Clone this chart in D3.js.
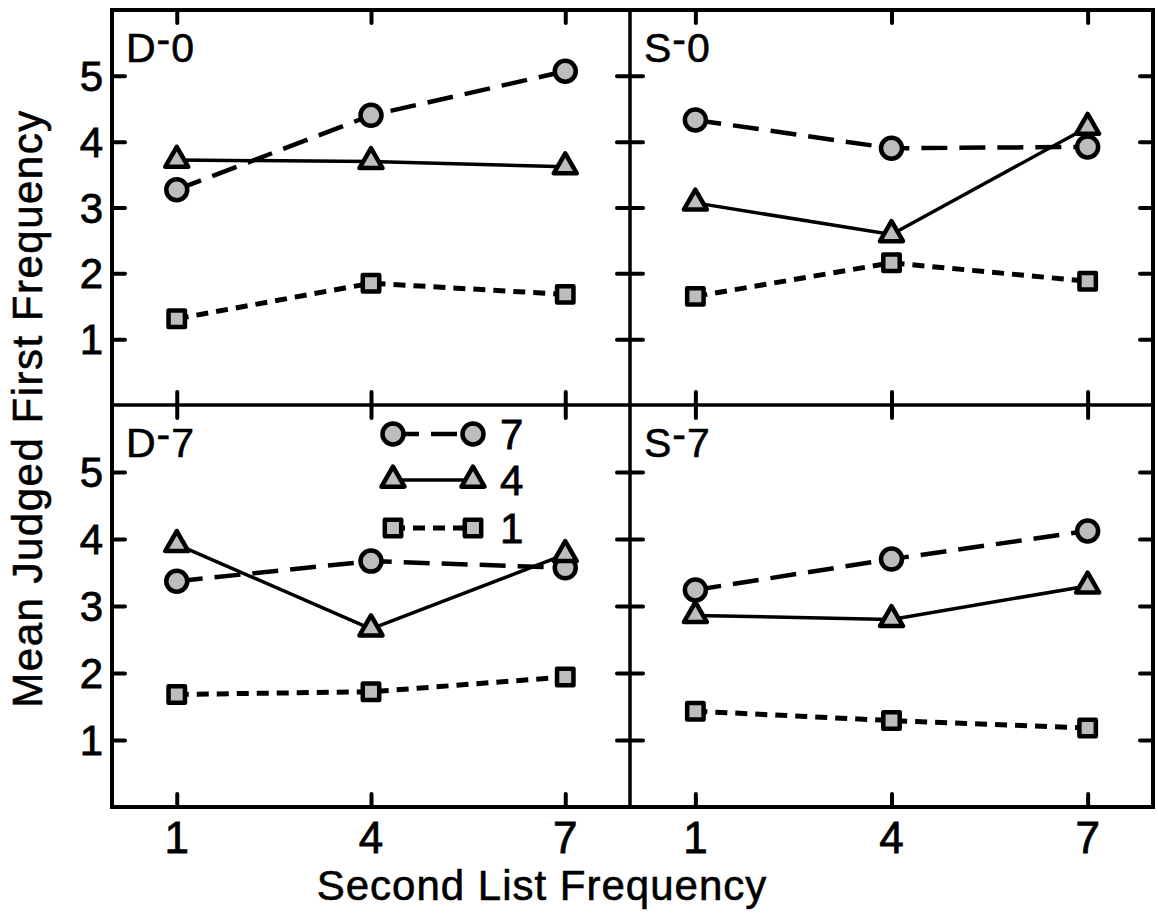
<!DOCTYPE html>
<html>
<head>
<meta charset="utf-8">
<script src="https://cdn.jsdelivr.net/npm/d3@7"></script>
<style>
  body { margin: 0; background: #fff; }
  svg { display: block; }
</style>
</head>
<body>
<div id="chart"></div>
<script>
// second list frequency (x) and tick labels
const secondFreq = [1, 4, 7];
const yTickVals = [1, 2, 3, 4, 5];
const panelNames = ["D-0", "S-0", "D-7", "S-7"];
const firstFreqLabels = ["7", "4", "1"];

// mean judged first frequency, one array per panel and first-list frequency
const d0Freq7 = [3.27, 4.40, 5.07];
const d0Freq4 = [3.72, 3.70, 3.62];
const d0Freq1 = [1.31, 1.85, 1.68];

const s0Freq7 = [4.33, 3.90, 3.92];
const s0Freq4 = [3.07, 2.59, 4.22];
const s0Freq1 = [1.65, 2.16, 1.88];

const d7Freq7 = [3.37, 3.67, 3.57];
const d7Freq4 = [3.92, 2.66, 3.77];
const d7Freq1 = [1.68, 1.72, 1.94];

const s7Freq7 = [3.24, 3.70, 4.12];
const s7Freq4 = [2.86, 2.80, 3.30];
const s7Freq1 = [1.43, 1.29, 1.18];

const panelData = [
  [d0Freq7, d0Freq4, d0Freq1],
  [s0Freq7, s0Freq4, s0Freq1],
  [d7Freq7, d7Freq4, d7Freq1],
  [s7Freq7, s7Freq4, s7Freq1]
];

(function () {
  var W = 1158, H = 913,
      fLeft = 112, fMid = 630, fRight = 1153,
      fTop = 10, fMidY = 405, fBottom = 807,
      font = "'Liberation Sans', Arial, sans-serif",
      markFill = "#bdbdbd";

  // line style per first-list frequency: 7 = long dash, 4 = solid, 1 = short dash
  var styles = [
    {dash: "26,12", width: 4.5, symbol: d3.symbolCircle, size: Math.PI * 10.5 * 10.5},
    {dash: null,    width: 3.5, symbol: d3.symbolTriangle, size: 230},
    {dash: "12,8",  width: 5,   symbol: d3.symbolSquare, size: 270}
  ];

  var svg = d3.select("#chart").append("svg")
      .attr("width", W)
      .attr("height", H)
      .style("font-family", font);

  var cells = [
    {x0: fLeft, x1: fMid,   y0: fTop,  y1: fMidY},
    {x0: fMid,  x1: fRight, y0: fTop,  y1: fMidY},
    {x0: fLeft, x1: fMid,   y0: fMidY, y1: fBottom},
    {x0: fMid,  x1: fRight, y0: fMidY, y1: fBottom}
  ];

  var tickLen = 13;

  cells.forEach(function (c, i) {
    var x = d3.scaleLinear().domain([0, 8]).range([c.x0, c.x1]);
    var y = d3.scaleLinear().domain([0, 6]).range([c.y1, c.y0]);
    var g = svg.append("g");

    // inward ticks on all four sides
    var axes = [
      {ax: d3.axisLeft(y).tickValues(yTickVals), t: `translate(${c.x0},0)`},
      {ax: d3.axisRight(y).tickValues(yTickVals), t: `translate(${c.x1},0)`},
      {ax: d3.axisTop(x).tickValues(secondFreq), t: `translate(0,${c.y0})`},
      {ax: d3.axisBottom(x).tickValues(secondFreq), t: `translate(0,${c.y1})`}
    ];
    axes.forEach(function (a) {
      var ag = g.append("g")
          .attr("transform", a.t)
          .call(a.ax.tickSize(-tickLen).tickFormat(""));
      ag.select(".domain").remove();
      ag.selectAll(".tick line")
          .attr("stroke", "#000")
          .attr("stroke-width", 4)
          .attr("stroke-linecap", "round");
    });

    // tick labels on the outer left and bottom only
    if (c.x0 === fLeft) {
      g.append("g").selectAll("text")
        .data(yTickVals)
        .join("text")
          .attr("x", c.x0 - 9)
          .attr("y", d => y(d))
          .attr("dy", "0.36em")
          .attr("text-anchor", "end")
          .attr("font-size", 42)
          .attr("stroke", "#000").attr("stroke-width", 0.8)
          .text(d => d);
    }
    if (c.y1 === fBottom) {
      g.append("g").selectAll("text")
        .data(secondFreq)
        .join("text")
          .attr("x", d => x(d))
          .attr("y", c.y1 + 46)
          .attr("text-anchor", "middle")
          .attr("font-size", 44)
          .attr("stroke", "#000").attr("stroke-width", 0.8)
          .text(d => d);
    }

    // panel name, with the raised dash
    var name = panelNames[i].split("-");
    var lab = g.append("text")
        .attr("x", c.x0 + 14)
        .attr("y", c.y0 + 52)
        .attr("font-size", 41)
        .attr("letter-spacing", 1)
        .attr("stroke", "#000").attr("stroke-width", 0.6);
    lab.append("tspan").text(name[0]);
    lab.append("tspan").attr("dy", -9).text("-");
    lab.append("tspan").attr("dy", 9).text(name[1]);

    // series
    var line = d3.line().x((d, k) => x(secondFreq[k])).y(d => y(d));
    panelData[i].forEach(function (vals, s) {
      var st = styles[s];
      g.append("path")
          .attr("d", line(vals))
          .attr("fill", "none")
          .attr("stroke", "#000")
          .attr("stroke-width", st.width)
          .attr("stroke-dasharray", st.dash);
      g.append("g").selectAll("path")
        .data(vals)
        .join("path")
          .attr("transform", (d, k) => `translate(${x(secondFreq[k])},${y(d)})`)
          .attr("d", d3.symbol().type(st.symbol).size(st.size))
          .attr("fill", markFill)
          .attr("stroke", "#000")
          .attr("stroke-width", 4.5)
          .attr("stroke-linejoin", "round");
    });
  });

  // frame and dividers
  svg.append("rect")
      .attr("x", fLeft).attr("y", fTop)
      .attr("width", fRight - fLeft).attr("height", fBottom - fTop)
      .attr("fill", "none").attr("stroke", "#000").attr("stroke-width", 4);
  svg.append("line")
      .attr("x1", fMid).attr("x2", fMid).attr("y1", fTop).attr("y2", fBottom)
      .attr("stroke", "#000").attr("stroke-width", 3.5);
  svg.append("line")
      .attr("x1", fLeft).attr("x2", fRight).attr("y1", fMidY).attr("y2", fMidY)
      .attr("stroke", "#000").attr("stroke-width", 3.5);

  // legend in the D-7 panel
  var legX0 = 393, legX1 = 473, legTextX = 500,
      legY = [434, 480, 528];
  var leg = svg.append("g");
  styles.forEach(function (st, s) {
    leg.append("line")
        .attr("x1", legX0).attr("x2", legX1)
        .attr("y1", legY[s]).attr("y2", legY[s])
        .attr("stroke", "#000")
        .attr("stroke-width", st.width)
        .attr("stroke-dasharray", st.dash);
    leg.selectAll(null)
      .data([legX0, legX1])
      .join("path")
        .attr("transform", d => `translate(${d},${legY[s]})`)
        .attr("d", d3.symbol().type(st.symbol).size(st.size))
        .attr("fill", markFill)
        .attr("stroke", "#000")
        .attr("stroke-width", 4.5)
        .attr("stroke-linejoin", "round");
    leg.append("text")
        .attr("x", legTextX)
        .attr("y", legY[s])
        .attr("dy", "0.36em")
        .attr("font-size", 42)
        .attr("stroke", "#000").attr("stroke-width", 0.8)
        .text(firstFreqLabels[s]);
  });

  // axis titles
  svg.append("text")
      .attr("transform", `translate(42,${(fTop + fBottom) / 2}) rotate(-90)`)
      .attr("text-anchor", "middle")
      .attr("font-size", 42)
      .attr("letter-spacing", 1.5)
      .attr("stroke", "#000").attr("stroke-width", 0.6)
      .text("Mean Judged First Frequency");
  svg.append("text")
      .attr("x", 542)
      .attr("y", 900)
      .attr("text-anchor", "middle")
      .attr("font-size", 42)
      .attr("letter-spacing", 1)
      .attr("stroke", "#000").attr("stroke-width", 0.6)
      .text("Second List Frequency");
})();
</script>
</body>
</html>
